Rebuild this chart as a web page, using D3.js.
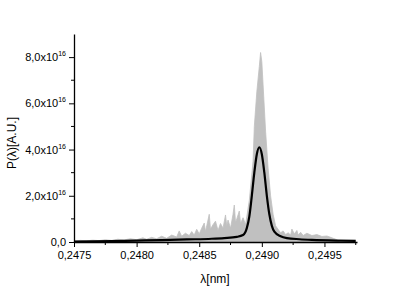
<!DOCTYPE html>
<html>
<head>
<meta charset="utf-8">
<script src="https://cdn.jsdelivr.net/npm/d3@7"></script>
<style>
  body { margin: 0; background: #fff; }
  text { font-family: "Liberation Sans", Arial, sans-serif; }
</style>
</head>
<body>
<svg id="chart" width="415" height="292"></svg>
<script>
// grey band: envelope of the single-shot spectra
const greyLambda = [0.24750, 0.24755, 0.24760, 0.24765, 0.24770, 0.24775, 0.24780, 0.24785, 0.24790, 0.24795,
  0.24800, 0.24805, 0.24808, 0.24812, 0.24816, 0.24820, 0.24824, 0.24828, 0.24832, 0.24834,
  0.24836, 0.24839, 0.24842, 0.24844, 0.24846, 0.24848, 0.24850, 0.24852, 0.24854, 0.24855,
  0.24856, 0.24858, 0.24859, 0.24861, 0.24863, 0.24865, 0.24867, 0.24869, 0.24871, 0.24872,
  0.24873, 0.24875, 0.24877, 0.24878, 0.24879, 0.24880, 0.24882, 0.24883, 0.24885, 0.24887,
  0.24888, 0.24890, 0.24893, 0.24894, 0.24896, 0.24898, 0.24899, 0.24900, 0.24901, 0.24903,
  0.24905, 0.24907, 0.24909, 0.24911, 0.24913, 0.24915, 0.24917, 0.24919, 0.24921, 0.24923,
  0.24924, 0.24926, 0.24928, 0.24929, 0.24931, 0.24933, 0.24936, 0.24940, 0.24944, 0.24948,
  0.24952, 0.24956, 0.24960, 0.24962];
const greyP = [0.04, 0.07, 0.05, 0.08, 0.06, 0.10, 0.07, 0.12, 0.09, 0.14,
  0.10, 0.18, 0.12, 0.20, 0.14, 0.25, 0.16, 0.30, 0.22, 0.48,
  0.25, 0.38, 0.28, 0.45, 0.30, 0.55, 0.35, 0.60, 0.82, 0.45,
  0.70, 1.20, 0.55, 0.75, 0.90, 0.50, 0.80, 0.60, 1.17, 0.70,
  0.95, 0.60, 1.20, 1.60, 0.85, 1.00, 1.34, 0.80, 1.05, 0.75,
  1.10, 1.80, 3.50, 5.00, 6.50, 7.60, 8.20, 7.80, 6.80, 4.80,
  3.20, 2.00, 1.20, 0.70, 0.55, 0.40, 0.48, 0.32, 0.40, 0.30,
  0.56, 0.35, 0.50, 0.30, 0.42, 0.28, 0.38, 0.28, 0.32, 0.24,
  0.26, 0.18, 0.10, 0.00];

// black: averaged spectrum
const avgLambda = [0.24750, 0.24780, 0.24800, 0.24820, 0.24840, 0.24860, 0.24870, 0.24880, 0.24885, 0.24888,
  0.24890, 0.24892, 0.24894, 0.24896, 0.24898, 0.24900, 0.24902, 0.24904, 0.24906, 0.24908,
  0.24910, 0.24915, 0.24920, 0.24930, 0.24940, 0.24960, 0.24975];
const avgP = [0.02, 0.04, 0.06, 0.08, 0.11, 0.14, 0.17, 0.22, 0.30, 0.60,
  1.10, 2.00, 3.00, 3.80, 4.10, 3.80, 3.00, 2.00, 1.20, 0.70,
  0.45, 0.25, 0.17, 0.12, 0.09, 0.06, 0.05];

const xTicks = [0.2475, 0.2480, 0.2485, 0.2490, 0.2495];
const xTickLabels = ["0,2475", "0,2480", "0,2485", "0,2490", "0,2495"];
const yTicks = [0, 2, 4, 6, 8];
const yTickLabels = ["0,0", "2,0x10", "4,0x10", "6,0x10", "8,0x10"];

const svg = d3.select("#chart");
svg.append("rect").attr("width", 415).attr("height", 292).attr("fill", "#fff");

const x = d3.scaleLinear().domain([0.2475, 0.24976]).range([74, 357]);
const y = d3.scaleLinear().domain([0, 9]).range([242, 34]);

const grey = greyLambda.map((l, i) => [l, greyP[i]]);
const avg = avgLambda.map((l, i) => [l, avgP[i]]);

svg.append("path")
  .datum(grey)
  .attr("d", d3.area().x(d => x(d[0])).y0(y(0)).y1(d => y(d[1])))
  .attr("fill", "#c0c0c0")
  .attr("stroke", "#c0c0c0")
  .attr("stroke-width", 0.8);

svg.append("path")
  .datum(avg)
  .attr("d", d3.line().x(d => x(d[0])).y(d => y(d[1])).curve(d3.curveMonotoneX))
  .attr("fill", "none")
  .attr("stroke", "#000")
  .attr("stroke-width", 2.2);

// axes
const xAxis = d3.axisBottom(x).tickValues(xTicks).tickFormat((d, i) => xTickLabels[i]).tickSize(5).tickSizeOuter(0);
const gx = svg.append("g").attr("transform", "translate(0,242)").call(xAxis);
gx.selectAll("text").attr("font-size", 11).attr("fill", "#000").attr("dy", "0.85em");

const xMinor = d3.range(0.24775, 0.24976, 0.0005);
gx.selectAll(".minor").data(xMinor).enter().append("line")
  .attr("x1", d => x(d)).attr("x2", d => x(d))
  .attr("y1", 0).attr("y2", 3)
  .attr("stroke", "#000");

const yAxis = d3.axisLeft(y).tickValues(yTicks).tickFormat("").tickSize(5).tickSizeOuter(0);
const gy = svg.append("g").attr("transform", "translate(74,0)").call(yAxis);
gy.selectAll(".minor").data([1, 3, 5, 7]).enter().append("line")
  .attr("x1", 0).attr("x2", -3)
  .attr("y1", d => y(d)).attr("y2", d => y(d))
  .attr("stroke", "#000");

const yl = svg.append("g").selectAll("text").data(yTicks).enter().append("text")
  .attr("x", 66)
  .attr("y", d => y(d) + 4)
  .attr("text-anchor", "end")
  .attr("font-size", 11);
yl.append("tspan").text((d, i) => yTickLabels[i]);
yl.filter(d => d > 0).append("tspan")
  .attr("font-size", 7)
  .attr("dy", -5)
  .text("16");

svg.selectAll(".domain").attr("stroke-width", 1.3);

svg.append("text")
  .attr("x", 215).attr("y", 283)
  .attr("text-anchor", "middle")
  .attr("font-size", 12)
  .text("λ[nm]");

svg.append("text")
  .attr("transform", "translate(16,143) rotate(-90)")
  .attr("text-anchor", "middle")
  .attr("font-size", 12)
  .text("P(λ)[A.U.]");
</script>
</body>
</html>
